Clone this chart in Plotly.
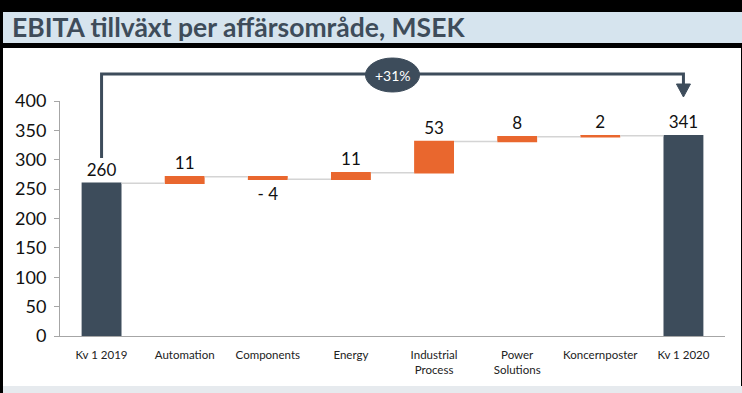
import plotly.graph_objects as go

categories = ["Kv 1 2019", "Automation", "Components", "Energy", "Industrial<br>Process",
              "Power<br>Solutions", "Koncernposter", "Kv 1 2020"]
values = [260, 11, -4, 11, 53, 8, 2, 341]
measures = ["absolute", "relative", "relative", "relative", "relative", "relative", "relative", "total"]
labels = ["260", "11", "- 4", "11", "53", "8", "2", "341"]
growth_label = "+31%"
y_ticks = [0, 50, 100, 150, 200, 250, 300, 350, 400]

W, H = 742, 393
L, R, T, B = 60, 725, 101, 336  # plot area in pixels

def px(x):
    return (x - L) / (R - L)

def py(y):
    return (B - y) / (B - T)

DARK = "#3d4c5b"
ORANGE = "#e9672e"

fig = go.Figure(go.Waterfall(
    x=categories, y=values, measure=measures,
    text=labels, textposition="outside",
    textfont=dict(size=17, color="#111111", family="Lato"),
    totals=dict(marker=dict(color=DARK)),
    increasing=dict(marker=dict(color=ORANGE)),
    decreasing=dict(marker=dict(color=ORANGE)),
    connector=dict(line=dict(color="#d4d4d4", width=1.5)),
    cliponaxis=False,
    hoverinfo="skip",
))

n = len(categories)
def cx(i):
    return (i + 0.5) / n

shapes = [
    dict(type="rect", xref="paper", yref="paper", x0=px(3), x1=px(741), y0=py(48), y1=py(386),
         fillcolor="white", line_width=0, layer="below"),
    dict(type="rect", xref="paper", yref="paper", x0=px(3), x1=px(742), y0=py(12), y1=py(43),
         fillcolor="#d6e4ee", line_width=0, layer="below"),
    dict(type="rect", xref="paper", yref="paper", x0=px(3), x1=px(742), y0=py(386), y1=py(393),
         fillcolor="#e6eaee", line_width=0, layer="below"),
    # arrow path
    dict(type="path", xref="paper", yref="paper",
         path=f"M {cx(0)} {py(158)} L {cx(0)} {py(74)} L {cx(n-1)} {py(74)} L {cx(n-1)} {py(85)}",
         line=dict(color=DARK, width=3)),
    dict(type="path", xref="paper", yref="paper",
         path=f"M {cx(n-1)-7/(R-L)} {py(84)} L {cx(n-1)+7/(R-L)} {py(84)} L {cx(n-1)} {py(97)} Z",
         fillcolor=DARK, line=dict(color=DARK, width=1)),
    dict(type="circle", xref="paper", yref="paper",
         x0=0.5 - 27/(R-L), x1=0.5 + 27/(R-L), y0=py(92), y1=py(58),
         fillcolor=DARK, line=dict(color=DARK, width=1)),
]

fig.add_annotation(x=0.5, y=py(75), xref="paper", yref="paper", text=growth_label,
                   xanchor="center", yanchor="middle",
                   showarrow=False, font=dict(size=14, color="white", family="Lato"))

fig.update_layout(
    width=W, height=H,
    margin=dict(l=L, r=W - R, t=T, b=H - B, pad=0),
    paper_bgcolor="black", plot_bgcolor="rgba(0,0,0,0)",
    showlegend=False,
    shapes=shapes,
    title=dict(text="<b>EBITA tillväxt per affärsområde, MSEK</b>", xref="container", yref="container",
               x=12 / W, y=1 - 28 / H, xanchor="left", yanchor="middle",
               font=dict(size=26.5, color="#3e4c5a", family="Lato")),
    waterfallgap=0.52,
    font=dict(family="Lato"),
)
fig.update_xaxes(range=[-0.5, n - 0.5], showline=True, linecolor="#a6a6a6", linewidth=1,
                 tickfont=dict(size=11.5, color="#222222"), ticks="", showgrid=False,
                 ticklabelstandoff=8)
fig.update_yaxes(range=[0, 400], tickvals=y_ticks, showline=True, linecolor="#a6a6a6", linewidth=1,
                 ticks="outside", ticklen=5, tickcolor="#a6a6a6", showgrid=False, zeroline=False,
                 tickfont=dict(size=18, color="#111111"), ticklabelstandoff=4)

fig.write_html("out.html", config={"displayModeBar": False},
               post_script="document.body.style.margin='0';")
